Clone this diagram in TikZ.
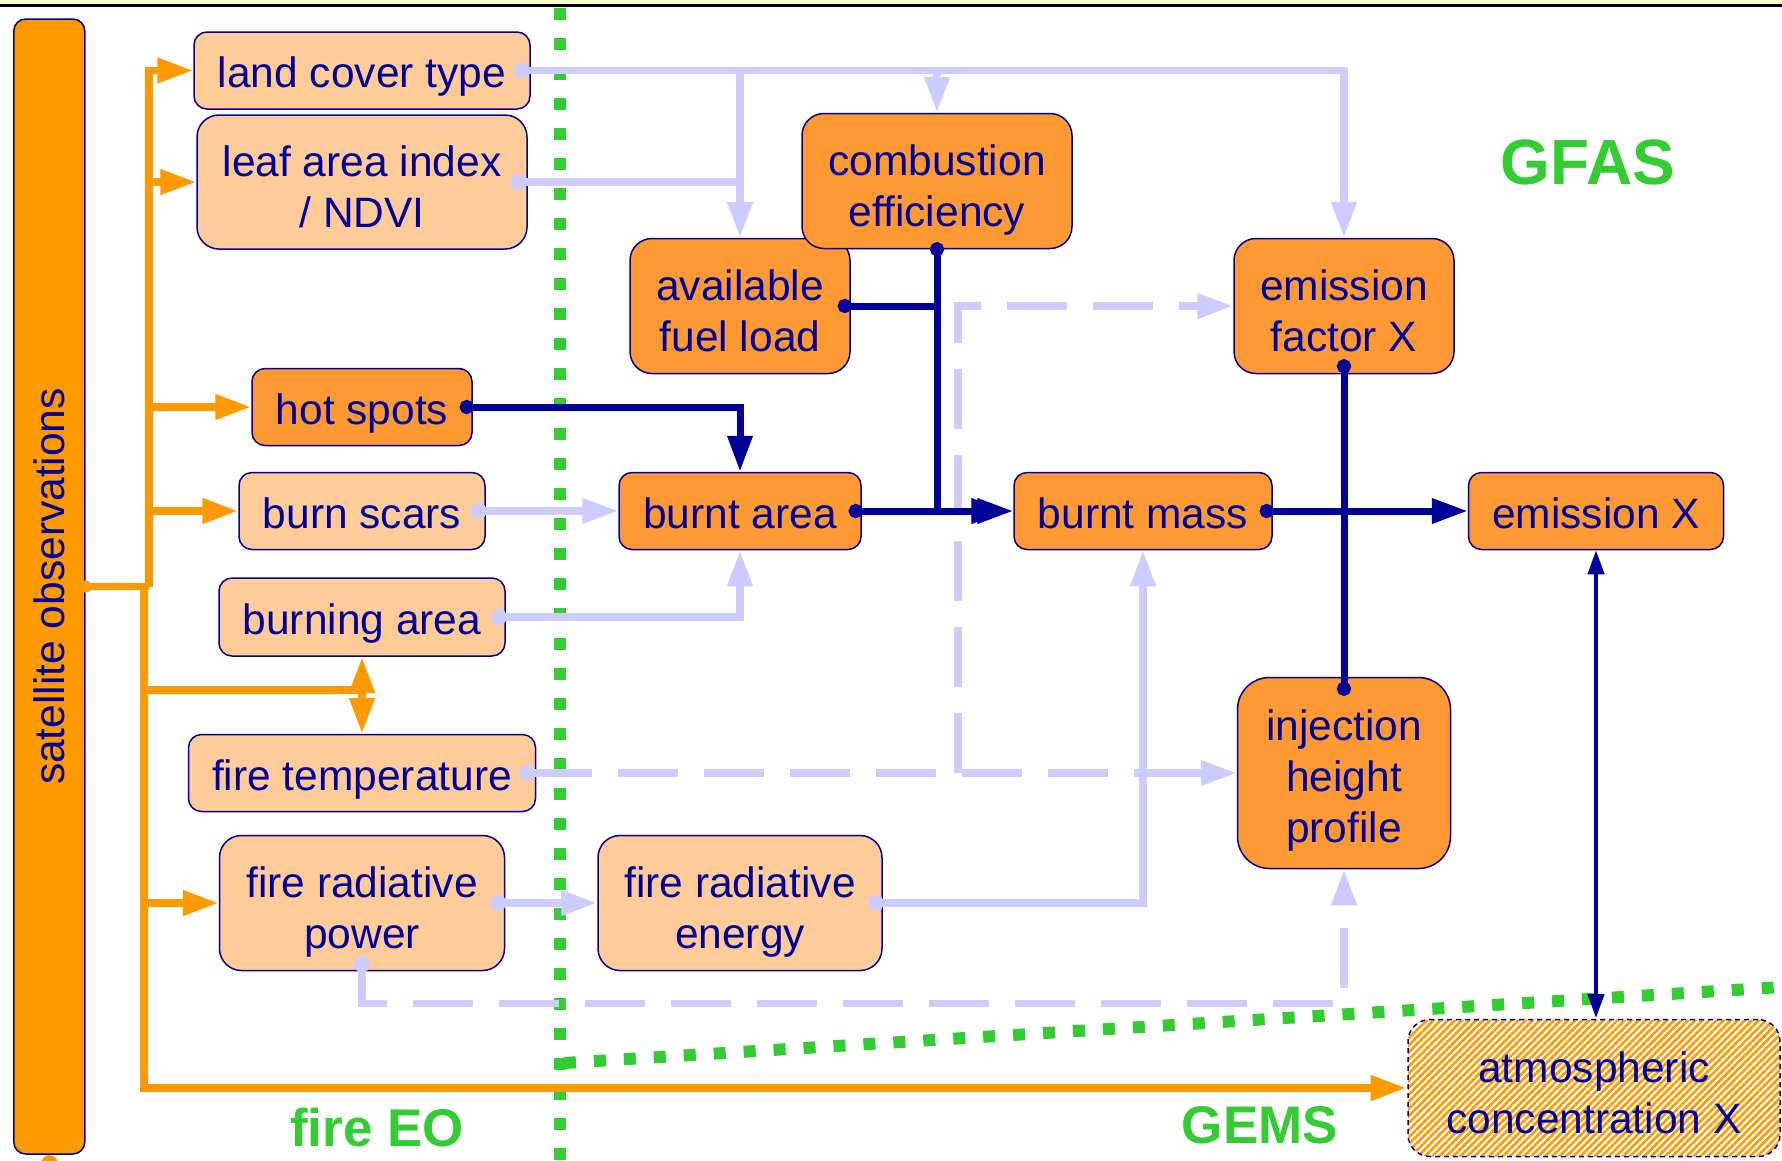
\documentclass[tikz,border=0pt]{standalone}
\usepackage{fontspec}
\setmainfont{Liberation Sans}
\usetikzlibrary{arrows.meta,patterns.meta,calc}
\definecolor{navy}{RGB}{0,0,153}
\definecolor{peach}{RGB}{255,204,153}
\definecolor{dorange}{RGB}{255,153,51}
\definecolor{barorange}{RGB}{255,153,0}
\definecolor{lblue}{RGB}{204,204,255}
\definecolor{eogreen}{RGB}{51,204,51}
\definecolor{topyellow}{RGB}{255,255,204}
\begin{document}
\begin{tikzpicture}[x=1pt,y=-1pt,
  box/.style={draw=navy, line width=1.5pt, text=navy, align=center, inner sep=0pt,
    font=\fontsize{42.5}{51}\selectfont, text height=34pt, text depth=0pt},
  twolines/.style={text height=91.5pt},
  threelines/.style={text height=139.5pt},
  inbox/.style={box, fill=peach},
  mbox/.style={box, fill=dorange},
  lbl/.style={text=eogreen, font=\bfseries\fontsize{53}{60}\selectfont},
  tipbig/.tip={Triangle[length=36pt,width=24pt]},
  tipsmall/.tip={Triangle[length=24pt,width=16pt]},
  dotn/.tip={Circle[length=14pt]},
  dotl/.tip={Circle[length=16pt]},
  doto/.tip={Circle[length=12pt]},
  oline/.style={draw=barorange, line width=7.5pt},
  oarr/.style={oline, -tipbig},
  nline/.style={draw=navy, line width=7pt},
  narr/.style={nline, dotn-tipbig},
  lbline/.style={draw=lblue, line width=7.5pt},
  lbarr/.style={lbline, dotl-tipbig},
  lbdash/.style={lbline, dash pattern=on 60pt off 26pt},
  greendots/.style={draw=eogreen, line width=12pt, dash pattern=on 12pt off 18pt}
]
\useasboundingbox (0,0) rectangle (1782,1160);
\fill[white] (0,0) rectangle (1782,1160);
\fill[topyellow] (0,0) rectangle (1782,4);
\fill[black] (0,4) rectangle (1782,7);

% green region borders
\draw[greendots] (560,8) -- (560,1160);
\draw[greendots] (564,1063) -- (1782,987);

% satellite bar
\fill[barorange] (49.5,1163) circle (8);
\node[draw=navy, line width=1.5pt, fill=barorange, rounded corners=12, minimum width=71,
  minimum height=1135, inner sep=0pt] (sat) at (49.3,586.5) {};
\node[rotate=90, text=navy, font=\fontsize{42.5}{51}\selectfont] (sattxt) at (sat.center) {satellite observations};

% input nodes
\node[inbox, rounded corners=13, minimum width=336, minimum height=77] (lc) at (362,70.5) {land cover type};
\node[inbox, twolines, rounded corners=22, minimum width=330, minimum height=134] (lai) at (362,182) {leaf area index\\/ NDVI};
\node[mbox, rounded corners=13, minimum width=220, minimum height=77] (hs) at (362,407) {hot spots};
\node[inbox, rounded corners=13, minimum width=246, minimum height=77] (bs) at (362,511) {burn scars};
\node[inbox, rounded corners=13, minimum width=286, minimum height=78] (ba) at (362,617) {burning area};
\node[inbox, rounded corners=13, minimum width=347, minimum height=77] (ft) at (362,773) {fire temperature};
\node[inbox, twolines, rounded corners=22, minimum width=285, minimum height=135] (frp) at (362,903) {fire radiative\\power};
\node[inbox, twolines, rounded corners=22, minimum width=284, minimum height=135] (fre) at (740,903) {fire radiative\\energy};

% model nodes
\node[mbox, twolines, rounded corners=22, minimum width=220, minimum height=135] (afl) at (740,306) {available\\fuel load};
\node[mbox, twolines, rounded corners=22, minimum width=270, minimum height=135] (ce) at (937,181) {combustion\\efficiency};
\node[mbox, rounded corners=13, minimum width=242, minimum height=77] (bua) at (740,511) {burnt area};
\node[mbox, rounded corners=13, minimum width=258, minimum height=77] (bm) at (1143,511) {burnt mass};
\node[mbox, twolines, rounded corners=22, minimum width=220, minimum height=135] (ef) at (1344,306) {emission\\factor X};
\node[mbox, rounded corners=13, minimum width=255, minimum height=77] (ex) at (1596,511) {emission X};
\node[mbox, threelines, rounded corners=32, minimum width=213, minimum height=191] (inj) at (1344,773) {injection\\height\\profile};
\node[box, twolines, dash pattern=on 5pt off 4pt, rounded corners=22, minimum width=372, minimum height=137,
  pattern={Lines[angle=45,distance=5pt,line width=2.6pt]}, pattern color=barorange] (atm) at (1594,1088) {atmospheric\\concentration X};

% labels
\node[lbl, font=\bfseries\fontsize{64}{70}\selectfont] (gfas) at (1588,162) {GFAS};
\node[lbl] (eo) at (377,1128) {fire EO};
\node[lbl] (gems) at (1260,1125) {GEMS};

% orange connectors from satellite observations
\coordinate (tu) at (149,586.5);
\coordinate (td) at (144,586.5);
\coordinate (bt) at (362,690);
\draw[oline, doto-] ([xshift=-6pt]sat.east) -- (tu);
\draw[oarr] (tu) |- (lc.west);
\draw[oarr] (tu) |- (lai.west);
\draw[oarr] (tu) |- (hs.west);
\draw[oarr] (tu) |- (bs.west);
\draw[oline] (td) |- (bt);
\draw[oarr] (bt) -- (ba.south);
\draw[oarr] (bt) -- (ft.north);
\draw[oarr] (td) |- (frp.west);
\draw[oarr] (td) |- (atm.west);

% light blue connectors
\draw[lbarr] ([xshift=-17pt]lc.east) -| (ef.north);
\draw[lbline, -tipbig] (lc.east -| afl.north) -- (afl.north);
\draw[lbline, -tipbig] (lc.east -| ce.north) -- (ce.north);
\draw[lbline, dotl-] ([xshift=-17pt]lai.east) -- (lai.east -| afl.north);
\draw[lbarr] ([xshift=-15pt]bs.east) -- (bua.west);
\draw[lbarr] ([xshift=-15pt]ba.east) -| (bua.south);
\draw[lbarr] ([xshift=-15pt]frp.east) -- (fre.west);
\draw[lbarr] ([xshift=-15pt]fre.east) -| (bm.south);
\draw[lbline, -tipbig] (ft.east -| bm.south) -- (inj.west);
\draw[lbdash, dotl-] ([xshift=-17pt]ft.east) -- (ft.east -| bm.south);
\coordinate (tj) at (958,773);
\draw[lbdash, -tipbig] (tj) |- (ef.west);
\draw[lbdash, dotl-tipbig] ([yshift=15pt]frp.south) -- ++(0,47) -| (inj.south);

% dark blue connectors
\draw[narr] ([xshift=-13pt]hs.east) -| (bua.north);
\draw[nline, dotn-] ([xshift=-13pt]afl.east) -- (afl.east -| ce.south);
\draw[narr] ([yshift=7pt]ce.south) |- ([xshift=-6pt]bm.west);
\draw[narr] ([xshift=-13pt]bua.east) -- (bm.west);
\draw[narr] ([xshift=-13pt]bm.east) -- (ex.west);
\draw[nline, dotn-dotn] ([yshift=15pt]ef.south) -- ([yshift=-19pt]inj.north);
\draw[draw=navy, line width=4pt, tipsmall-tipsmall] (ex.south) -- (ex.south |- atm.north);
\end{tikzpicture}
\end{document}
